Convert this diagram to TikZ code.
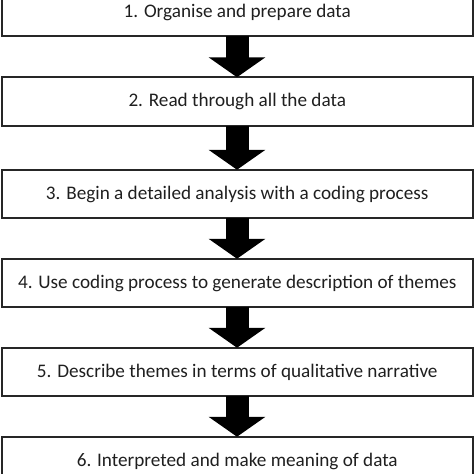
\documentclass[tikz,border=0pt]{standalone}
\usepackage{fontspec}
\setmainfont{Carlito}
\usetikzlibrary{arrows.meta}
\begin{document}
\begin{tikzpicture}[x=1pt,y=-1pt,
  stepbox/.style={draw=black!85, line width=2pt, minimum width=470.5pt, minimum height=48.5pt,
    inner sep=0pt, outer sep=0pt, font=\fontsize{19.2}{22}\selectfont, text=black!88},
  bigarrow/.style={line width=23pt, black, -{Triangle[width=56pt,length=20pt]}}]
\useasboundingbox (0,0) rectangle (474,474);
\node[stepbox] (b1) at (237.25,12) {1. Organise and prepare data};
\node[stepbox] (b2) at (237.25,101.5) {2. Read through all the data};
\node[stepbox] (b3) at (237.25,194) {3. Begin a detailed analysis with a coding process};
\node[stepbox] (b4) at (237.25,283) {4. Use coding process to generate description of themes};
\node[stepbox] (b5) at (237.25,372) {5. Describe themes in terms of qualitative narrative};
\node[stepbox] (b6) at (237.25,461) {6. Interpreted and make meaning of data};
\draw[bigarrow] ([xshift=-0.25pt]b1.south) -- ([xshift=-0.25pt]b2.north);
\draw[bigarrow] ([xshift=-0.25pt]b2.south) -- ([xshift=-0.25pt]b3.north);
\draw[bigarrow] ([xshift=-0.25pt]b3.south) -- ([xshift=-0.25pt]b4.north);
\draw[bigarrow] ([xshift=-0.25pt]b4.south) -- ([xshift=-0.25pt]b5.north);
\draw[bigarrow] ([xshift=-0.25pt]b5.south) -- ([xshift=-0.25pt]b6.north);
\end{tikzpicture}
\end{document}
